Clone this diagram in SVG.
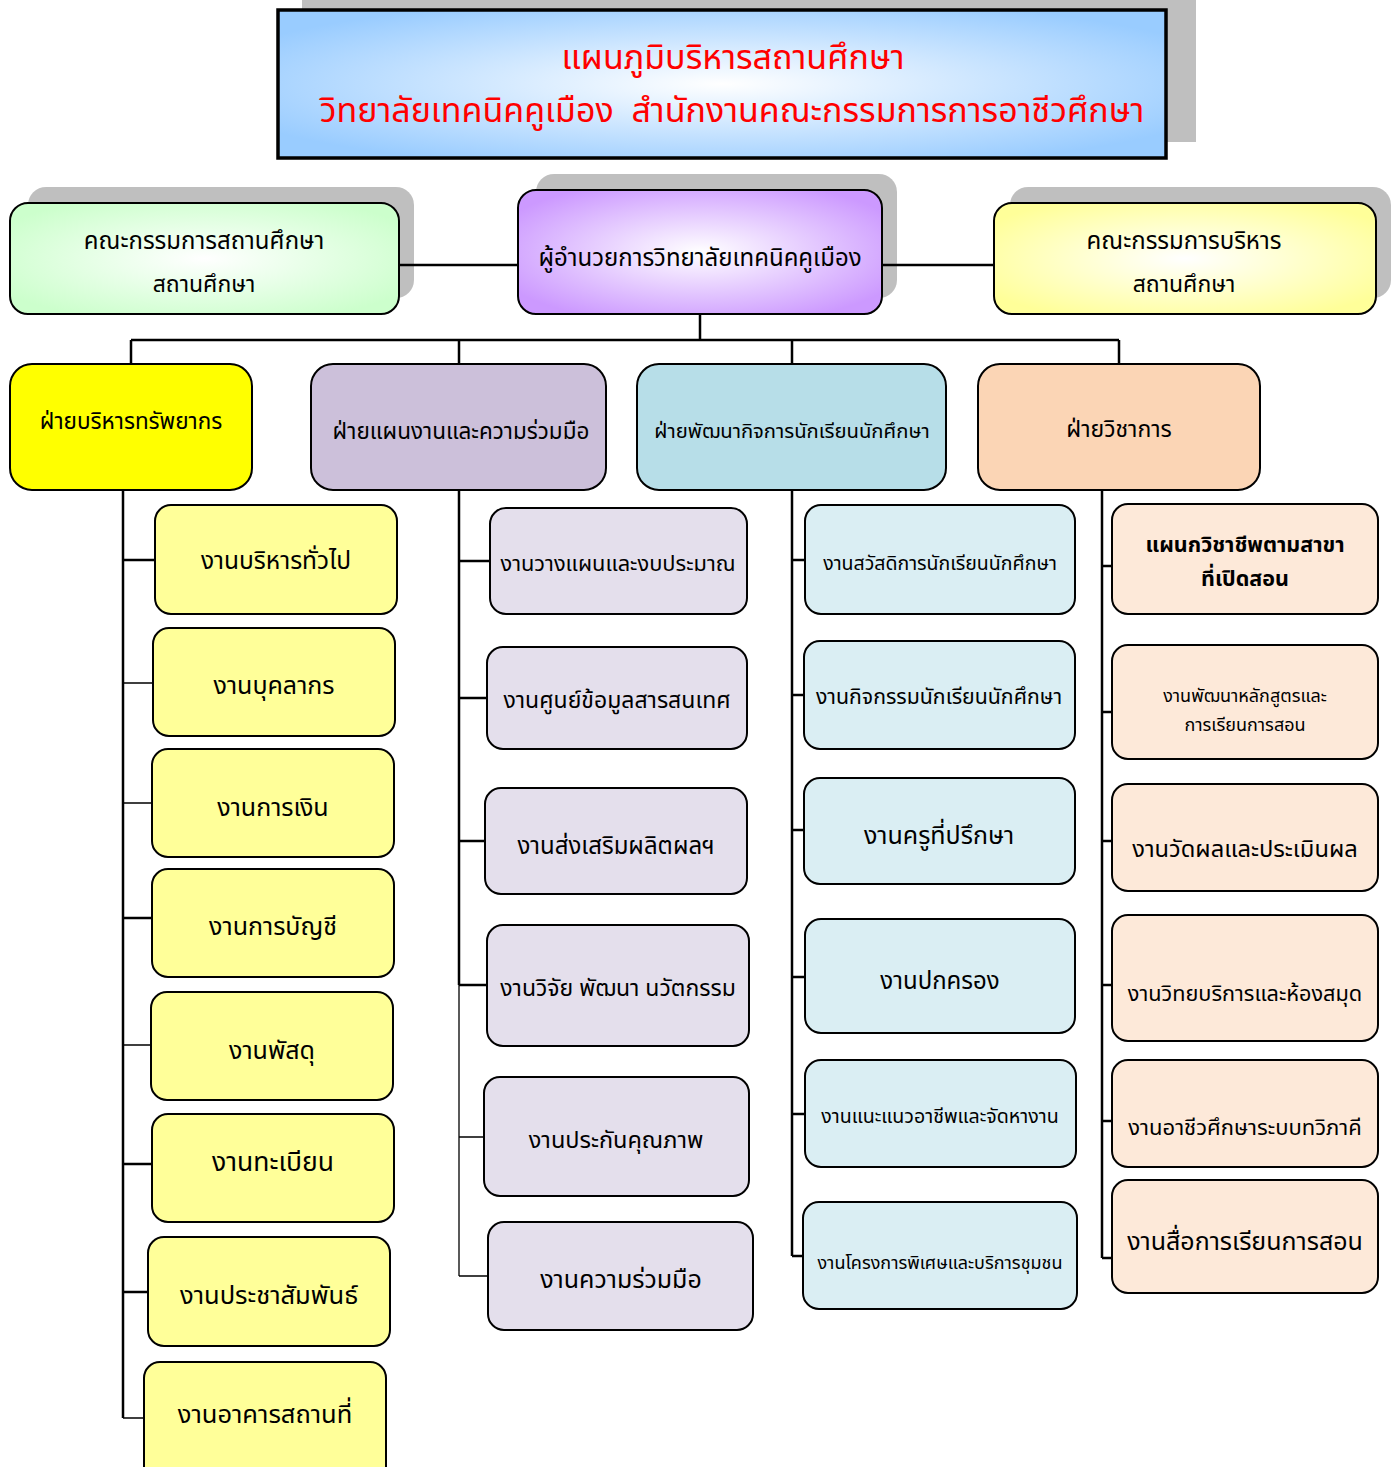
<svg xmlns="http://www.w3.org/2000/svg" width="1392" height="1467" viewBox="0 0 1392 1467">
<defs>
<radialGradient id="gTitle" cx="50%" cy="50%" r="60%"><stop offset="0" stop-color="#FFFFFF"/><stop offset="1" stop-color="#99CCFF"/></radialGradient>
<radialGradient id="gGreen" cx="50%" cy="50%" r="60%"><stop offset="0" stop-color="#FFFFFF"/><stop offset="1" stop-color="#CCFFCC"/></radialGradient>
<radialGradient id="gPurple" cx="50%" cy="50%" r="60%"><stop offset="0" stop-color="#FFFFFF"/><stop offset="1" stop-color="#CC99FF"/></radialGradient>
<radialGradient id="gYellow" cx="50%" cy="50%" r="60%"><stop offset="0" stop-color="#FFFFFF"/><stop offset="1" stop-color="#FFFF99"/></radialGradient>
</defs>
<style>
text{font-family:"Noto Sans Thai","Noto Sans","DejaVu Sans",sans-serif;text-anchor:middle;fill:#000;white-space:pre}
.box{stroke:#000;stroke-width:2}
.shadow{fill:#000;fill-opacity:0.25}
.y1{fill:#FFFF99}
.p1{fill:#E4DFEC}
.b1{fill:#DAEEF3}
.o1{fill:#FDE9D9}
.ln{stroke:#000;fill:none;stroke-width:2.5}
.thin{stroke:#000;fill:none;stroke-width:1.3}
.title{fill:#FF0000;font-size:34px}
</style>
<rect width="1392" height="1467" fill="#FFFFFF"/>

<g id="title">
<rect class="shadow" x="302" y="0" width="894" height="142"/>
<rect x="278" y="10" width="888" height="148" fill="url(#gTitle)" stroke="#000" stroke-width="3.5"/>
<text class="title" x="733" y="69">แผนภูมิบริหารสถานศึกษา</text>
<text class="title" x="732" y="122">วิทยาลัยเทคนิคคูเมือง  สำนักงานคณะกรรมการการอาชีวศึกษา</text>
</g>

<g id="connectors">
<path class="ln" d="M399 265H518M882 265H994"/>
<path class="ln" d="M700 314V340M131 340H1119M131 340V364M459 340V364M792 340V364M1119 340V364"/>
<path class="ln" d="M123 490V1418M459 490V985M792 490V1256M1102 490V1258"/>
<path class="thin" d="M459 985V1276"/>
<path class="ln" d="M123 560H155M123 918H152M123 1164H152M123 1292H148"/>
<path class="thin" d="M123 683H153M123 803H152M123 1045H151M123 1418H144"/>
<path class="ln" d="M459 561H490M459 698H487M459 841H485M459 985H487"/>
<path class="thin" d="M459 1137H484M459 1276H488"/>
<path class="ln" d="M792 560H805M792 695H804M792 830H804M792 977H805M792 1114H805M792 1256H803"/>
<path class="ln" d="M1102 566H1112M1102 712H1112M1102 841H1112M1102 985H1112M1102 1121H1112M1102 1258H1112"/>
</g>

<g id="n-committee">
<rect class="shadow" x="28" y="187" width="386" height="111" rx="18"/>
<rect class="box" x="10" y="203" width="389" height="111" rx="18" fill="url(#gGreen)"/>
<text x="204" y="249" font-size="24">คณะกรรมการสถานศึกษา</text>
<text x="204" y="292" font-size="23">สถานศึกษา</text>
</g>
<g id="n-director">
<rect class="shadow" x="536" y="174" width="361" height="124" rx="18"/>
<rect class="box" x="518" y="190" width="364" height="124" rx="18" fill="url(#gPurple)"/>
<text x="700" y="266" font-size="24">ผู้อำนวยการวิทยาลัยเทคนิคคูเมือง</text>
</g>
<g id="n-board">
<rect class="shadow" x="1010" y="187" width="381" height="111" rx="18"/>
<rect class="box" x="994" y="203" width="382" height="111" rx="18" fill="url(#gYellow)"/>
<text x="1184" y="249" font-size="24">คณะกรรมการบริหาร</text>
<text x="1184" y="292" font-size="23">สถานศึกษา</text>
</g>

<g id="d-resource">
<rect class="box" x="10" y="364" width="242" height="126" rx="22" fill="#FFFF00"/>
<text x="131" y="429" font-size="22.5">ฝ่ายบริหารทรัพยากร</text>
</g>
<g id="d-plan">
<rect class="box" x="311" y="364" width="295" height="126" rx="22" fill="#CCC0DA"/>
<text x="461" y="439" font-size="22.5">ฝ่ายแผนงานและความร่วมมือ</text>
</g>
<g id="d-student">
<rect class="box" x="637" y="364" width="309" height="126" rx="22" fill="#B7DEE8"/>
<text x="792" y="438" font-size="20.3">ฝ่ายพัฒนากิจการนักเรียนนักศึกษา</text>
</g>
<g id="d-academic">
<rect class="box" x="978" y="364" width="282" height="126" rx="22" fill="#FBD5B5"/>
<text x="1119" y="437" font-size="23">ฝ่ายวิชาการ</text>
</g>

<g id="r1"><rect class="box y1" x="155" y="505" width="242" height="109" rx="16"/><text x="276" y="569" font-size="24.5">งานบริหารทั่วไป</text></g>
<g id="r2"><rect class="box y1" x="153" y="628" width="242" height="108" rx="16"/><text x="274" y="694" font-size="25">งานบุคลากร</text></g>
<g id="r3"><rect class="box y1" x="152" y="749" width="242" height="108" rx="16"/><text x="273" y="816" font-size="25">งานการเงิน</text></g>
<g id="r4"><rect class="box y1" x="152" y="869" width="242" height="108" rx="16"/><text x="273" y="935" font-size="25">งานการบัญชี</text></g>
<g id="r5"><rect class="box y1" x="151" y="992" width="242" height="108" rx="16"/><text x="272" y="1059" font-size="25">งานพัสดุ</text></g>
<g id="r6"><rect class="box y1" x="152" y="1114" width="242" height="108" rx="16"/><text x="273" y="1171" font-size="26.5">งานทะเบียน</text></g>
<g id="r7"><rect class="box y1" x="148" y="1237" width="242" height="109" rx="16"/><text x="269" y="1304" font-size="25.5">งานประชาสัมพันธ์</text></g>
<g id="r8"><rect class="box y1" x="144" y="1362" width="242" height="120" rx="16"/><text x="265" y="1423" font-size="25.5">งานอาคารสถานที่</text></g>

<g id="p1"><rect class="box p1" x="490" y="508" width="257" height="106" rx="16"/><text x="618" y="571" font-size="21.8">งานวางแผนและงบประมาณ</text></g>
<g id="p2"><rect class="box p1" x="487" y="647" width="260" height="102" rx="16"/><text x="617" y="708" font-size="23">งานศูนย์ข้อมูลสารสนเทศ</text></g>
<g id="p3"><rect class="box p1" x="485" y="788" width="262" height="106" rx="16"/><text x="616" y="854" font-size="24">งานส่งเสริมผลิตผลฯ</text></g>
<g id="p4"><rect class="box p1" x="487" y="925" width="262" height="121" rx="16"/><text x="618" y="996" font-size="23">งานวิจัย พัฒนา นวัตกรรม</text></g>
<g id="p5"><rect class="box p1" x="484" y="1077" width="265" height="119" rx="16"/><text x="616" y="1148" font-size="23.5">งานประกันคุณภาพ</text></g>
<g id="p6"><rect class="box p1" x="488" y="1222" width="265" height="108" rx="16"/><text x="621" y="1288" font-size="25">งานความร่วมมือ</text></g>

<g id="s1"><rect class="box b1" x="805" y="505" width="270" height="109" rx="16"/><text x="940" y="570" font-size="19.5">งานสวัสดิการนักเรียนนักศึกษา</text></g>
<g id="s2"><rect class="box b1" x="804" y="641" width="271" height="108" rx="16"/><text x="939" y="704" font-size="21.3">งานกิจกรรมนักเรียนนักศึกษา</text></g>
<g id="s3"><rect class="box b1" x="804" y="778" width="271" height="106" rx="16"/><text x="939" y="844" font-size="25">งานครูที่ปรึกษา</text></g>
<g id="s4"><rect class="box b1" x="805" y="919" width="270" height="114" rx="16"/><text x="940" y="989" font-size="24">งานปกครอง</text></g>
<g id="s5"><rect class="box b1" x="805" y="1060" width="271" height="107" rx="16"/><text x="940" y="1123" font-size="19.6">งานแนะแนวอาชีพและจัดหางาน</text></g>
<g id="s6"><rect class="box b1" x="803" y="1202" width="274" height="107" rx="16"/><text x="940" y="1269" font-size="18">งานโครงการพิเศษและบริการชุมชน</text></g>

<g id="a1"><rect class="box o1" x="1112" y="504" width="266" height="110" rx="16"/><text x="1245" y="552" font-size="21.5" font-weight="bold">แผนกวิชาชีพตามสาขา</text><text x="1245" y="586" font-size="21.5" font-weight="bold">ที่เปิดสอน</text></g>
<g id="a2"><rect class="box o1" x="1112" y="645" width="266" height="114" rx="16"/><text x="1245" y="702" font-size="18">งานพัฒนาหลักสูตรและ</text><text x="1245" y="731" font-size="18">การเรียนการสอน</text></g>
<g id="a3"><rect class="box o1" x="1112" y="784" width="266" height="107" rx="16"/><text x="1245" y="857" font-size="23.7">งานวัดผลและประเมินผล</text></g>
<g id="a4"><rect class="box o1" x="1112" y="915" width="266" height="126" rx="16"/><text x="1245" y="1001" font-size="21.7">งานวิทยบริการและห้องสมุด</text></g>
<g id="a5"><rect class="box o1" x="1112" y="1060" width="266" height="107" rx="16"/><text x="1245" y="1135" font-size="22">งานอาชีวศึกษาระบบทวิภาคี</text></g>
<g id="a6"><rect class="box o1" x="1112" y="1180" width="266" height="113" rx="16"/><text x="1245" y="1250" font-size="25">งานสื่อการเรียนการสอน</text></g>
</svg>
